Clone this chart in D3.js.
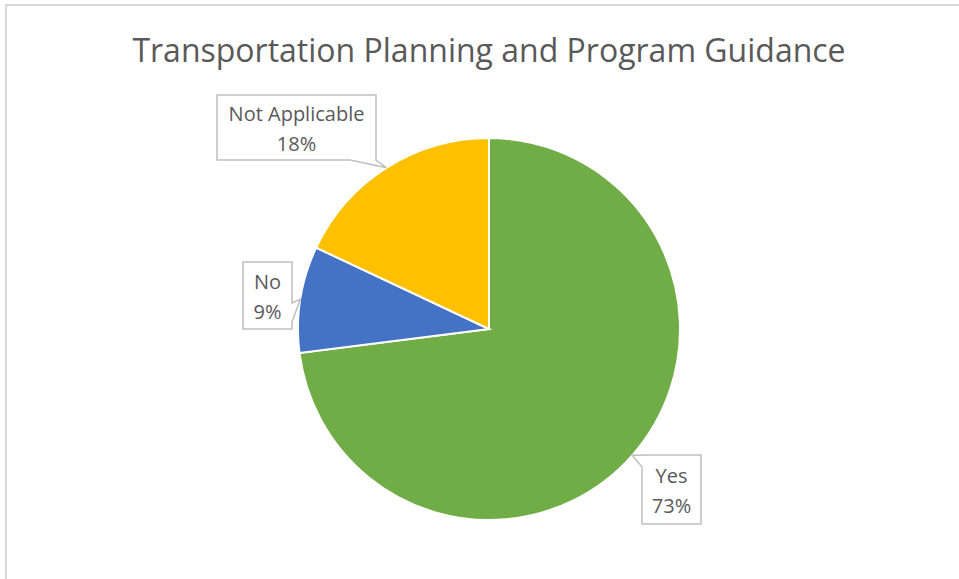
<!DOCTYPE html>
<html>
<head>
<meta charset="utf-8">
<script src="https://cdnjs.cloudflare.com/ajax/libs/d3/7.8.5/d3.min.js"></script>
<style>
  body { margin: 0; background: #fff; }
  svg { display: block; }
  text { font-family: "Open Sans", Lato, sans-serif; fill: #595959; }
</style>
</head>
<body>
<svg id="chart" width="959" height="579"></svg>
<script>
const title = "Transportation Planning and Program Guidance";
const categories = ["Yes", "No", "Not Applicable"];
const values = [73, 9, 18];
const colors = ["#70AD47", "#4472C4", "#FFC000"];

// callout boxes (layout only): box + where the wedge leaves the box
const callouts = [
  {x: 642, y: 455, w: 59, h: 69, side: "topleft", a: 12, b: 12},
  {x: 243, y: 262, w: 49, h: 67, side: "right", a: 41, b: 60},
  {x: 217, y: 95, w: 159, h: 65, side: "bottom", a: 133, b: 159}
];

const svg = d3.select("#chart"),
    width = +svg.attr("width"),
    height = +svg.attr("height");

// chart frame
svg.append("rect")
    .attr("x", 6).attr("y", 5)
    .attr("width", width + 10).attr("height", height + 10)
    .attr("fill", "none")
    .attr("stroke", "#d9d9d9")
    .attr("stroke-width", 2);

svg.append("text")
    .attr("x", 489).attr("y", 62)
    .attr("text-anchor", "middle")
    .style("font-size", "32px")
    .text(title);

const cx = 489, cy = 329, r = 191;
const total = d3.sum(values);
const data = categories.map((c, i) => ({name: c, value: values[i], color: colors[i], box: callouts[i]}));

const pie = d3.pie().sort(null).value(d => d.value);
const arc = d3.arc().innerRadius(0).outerRadius(r);
const arcs = pie(data);

const g = svg.append("g").attr("transform", `translate(${cx},${cy})`);

g.selectAll("path")
  .data(arcs)
  .enter().append("path")
    .attr("d", arc)
    .attr("fill", d => d.data.color)
    .attr("stroke", "#fff")
    .attr("stroke-width", 2);

// callouts
function calloutPath(b, tip) {
  const x0 = b.x, y0 = b.y, x1 = b.x + b.w, y1 = b.y + b.h;
  let pts;
  if (b.side === "bottom") {
    pts = [[x0, y0], [x1, y0], [x1, y1], [x0 + b.b, y1], tip, [x0 + b.a, y1], [x0, y1]];
  } else if (b.side === "right") {
    pts = [[x0, y0], [x1, y0], [x1, y0 + b.a], tip, [x1, y0 + b.b], [x1, y1], [x0, y1]];
  } else {
    pts = [tip, [x0 + b.a, y0], [x1, y0], [x1, y1], [x0, y1], [x0, y0 + b.b]];
  }
  return d3.line()(pts) + "Z";
}

const labels = svg.append("g");
arcs.forEach(d => {
  const mid = (d.startAngle + d.endAngle) / 2;
  const tip = [cx + r * Math.sin(mid), cy - r * Math.cos(mid)];
  const b = d.data.box;
  labels.append("path")
      .attr("d", calloutPath(b, tip))
      .attr("fill", "#fff")
      .attr("stroke", "#bfbfbf")
      .attr("stroke-width", 1.5);
  const t = labels.append("text")
      .attr("text-anchor", "middle")
      .style("font-size", "20px");
  const mx = b.x + b.w / 2, my = b.y + b.h / 2;
  t.append("tspan").attr("x", mx).attr("y", my - 7).text(d.data.name);
  t.append("tspan").attr("x", mx).attr("y", my + 23)
      .text(d3.format(".0%")(d.data.value / total));
});
</script>
</body>
</html>
